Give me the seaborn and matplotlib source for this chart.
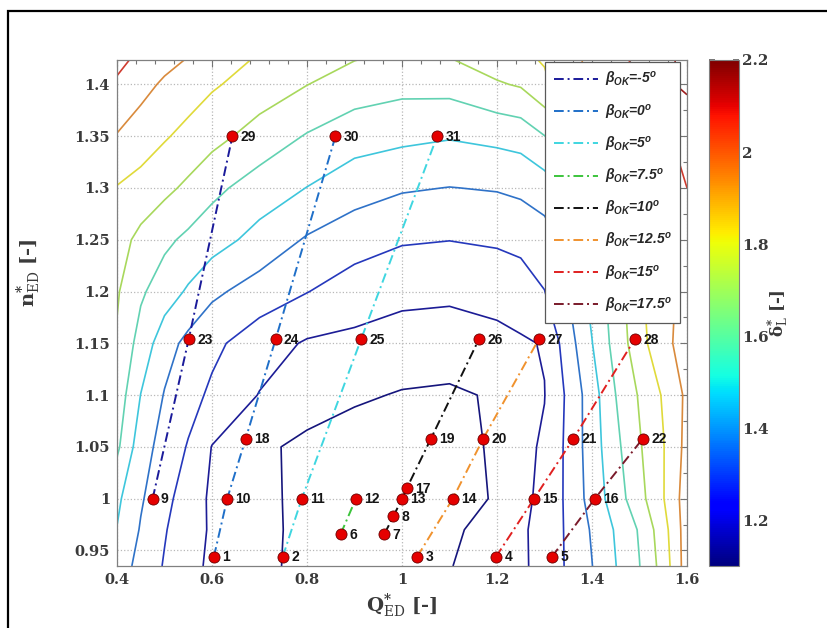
import numpy as np
import pandas as pd
import matplotlib
matplotlib.use("Agg")
import matplotlib.pyplot as plt
import seaborn as sns
from matplotlib.colors import Normalize
from matplotlib.lines import Line2D
from matplotlib.patches import Rectangle
from matplotlib.ticker import MultipleLocator
from matplotlib.font_manager import FontProperties

# ---------------- data ----------------
point_ids = list(range(1, 32))
q_ed = [0.604, 0.749, 1.032, 1.198, 1.316, 0.871, 0.963, 0.982, 0.475, 0.632,
        0.789, 0.903, 1.000, 1.107, 1.278, 1.406, 1.010, 0.671, 1.061, 1.171,
        1.361, 1.507, 0.551, 0.734, 0.914, 1.162, 1.288, 1.490, 0.643, 0.860, 1.074]
n_ed = [0.944, 0.944, 0.944, 0.944, 0.944, 0.966, 0.966, 0.983, 1.000, 1.000,
        1.000, 1.000, 1.000, 1.000, 1.000, 1.000, 1.010, 1.058, 1.058, 1.058,
        1.058, 1.058, 1.154, 1.154, 1.154, 1.154, 1.154, 1.154, 1.350, 1.350, 1.350]
beta_of_point = [0, 5, 12.5, 15, 17.5, 7.5, 10, 10, -5, 0,
                 5, 7.5, 10, 12.5, 15, 17.5, 10, 0, 10, 12.5,
                 15, 17.5, -5, 0, 5, 10, 12.5, 15, -5, 0, 5]

beta_levels = [-5, 0, 5, 7.5, 10, 12.5, 15, 17.5]
beta_texts = ["-5", "0", "5", "7.5", "10", "12.5", "15", "17.5"]
beta_colors = ["#1a1a9a", "#1f6fc8", "#3fd6e0", "#3cc43c",
               "#111111", "#f0922e", "#e02020", "#7a1a2a"]

# contour field s*_L on a grid
grid_q = [0.4, 0.45, 0.5, 0.55, 0.6, 0.7, 0.8, 0.9, 1.0, 1.1, 1.2, 1.25, 1.3,
          1.35, 1.4, 1.45, 1.5, 1.55, 1.6]
grid_n = [0.935, 0.97, 1.0, 1.05, 1.1, 1.15, 1.2, 1.25, 1.3, 1.35, 1.4, 1.425]
grid_s = [
    [1.45, 1.37, 1.292, 1.22, 1.188, 1.163, 1.135, 1.125, 1.123, 1.148, 1.175, 1.19, 1.22, 1.317, 1.398, 1.498, 1.598, 1.74, 1.95],
    [1.497, 1.392, 1.308, 1.235, 1.19, 1.162, 1.138, 1.122, 1.12, 1.14, 1.172, 1.188, 1.227, 1.318, 1.41, 1.51, 1.61, 1.76, 1.95],
    [1.52, 1.411, 1.331, 1.247, 1.185, 1.162, 1.137, 1.12, 1.117, 1.128, 1.155, 1.18, 1.22, 1.323, 1.439, 1.55, 1.666, 1.795, 1.95],
    [1.62, 1.444, 1.361, 1.293, 1.197, 1.16, 1.138, 1.13, 1.125, 1.132, 1.157, 1.18, 1.21, 1.325, 1.45, 1.575, 1.69, 1.795, 1.93],
    [1.66, 1.498, 1.394, 1.335, 1.282, 1.196, 1.175, 1.156, 1.147, 1.143, 1.155, 1.175, 1.198, 1.32, 1.455, 1.6, 1.71, 1.81, 1.92],
    [1.69, 1.561, 1.444, 1.371, 1.324, 1.244, 1.19, 1.178, 1.175, 1.175, 1.18, 1.19, 1.205, 1.356, 1.497, 1.6375, 1.76, 1.88, 1.93],
    [1.71, 1.615, 1.549, 1.487, 1.42, 1.357, 1.303, 1.25, 1.215, 1.21, 1.225, 1.245, 1.298, 1.402, 1.53, 1.65, 1.78, 1.88, 1.92],
    [1.74, 1.674, 1.621, 1.579, 1.543, 1.465, 1.39, 1.345, 1.311, 1.302, 1.315, 1.33, 1.357, 1.43, 1.56, 1.68, 1.79, 1.89, 1.95],
    [1.795, 1.762, 1.724, 1.68, 1.625, 1.555, 1.498, 1.441, 1.41, 1.398, 1.407, 1.42, 1.45, 1.52, 1.62, 1.73, 1.83, 1.93, 2.0],
    [1.895, 1.855, 1.81, 1.771, 1.733, 1.659, 1.593, 1.544, 1.524, 1.508, 1.527, 1.54, 1.598, 1.66, 1.75, 1.84, 1.95, 1.99, 2.02],
    [1.98, 1.93, 1.886, 1.85, 1.812, 1.756, 1.702, 1.652, 1.63, 1.635, 1.69, 1.71, 1.78, 1.87, 1.93, 1.98, 2.03, 2.08, 2.12],
    [2.04, 1.97, 1.93, 1.897, 1.855, 1.79, 1.74, 1.705, 1.68, 1.698, 1.75, 1.78, 1.81, 1.87, 1.92, 1.97, 2.02, 2.07, 2.13],
]
contour_levels = [1.15, 1.2, 1.3, 1.4, 1.5, 1.6, 1.7, 1.8, 1.9, 2.0, 2.1]
contour_colors = ["#15157c", "#1c1c96", "#2538bc", "#2f72c8", "#3ec6dc", "#62d2b2",
                  "#a8d85c", "#e0da3a", "#d98a3c", "#cf3a2e", "#9c1a1a"]

x_ticks = [0.4, 0.6, 0.8, 1.0, 1.2, 1.4, 1.6]
x_ticklabels = ["0.4", "0.6", "0.8", "1", "1.2", "1.4", "1.6"]
y_ticks = [0.95, 1.0, 1.05, 1.1, 1.15, 1.2, 1.25, 1.3, 1.35, 1.4]
y_ticklabels = ["0.95", "1", "1.05", "1.1", "1.15", "1.2", "1.25", "1.3", "1.35", "1.4"]
cb_ticks = [1.2, 1.4, 1.6, 1.8, 2.0, 2.2]
cb_ticklabels = ["1.2", "1.4", "1.6", "1.8", "2", "2.2"]

# ---------------- style ----------------
sns.set_theme(style="white")
plt.rcParams['font.family'] = ['DejaVu Serif']
plt.rcParams['mathtext.fontset'] = 'custom'
plt.rcParams['mathtext.it'] = 'Liberation Sans:italic:bold'
plt.rcParams['mathtext.rm'] = 'Liberation Sans:bold'
plt.rcParams['mathtext.bf'] = 'Liberation Sans:bold'

W, H = 828, 628
fig = plt.figure(figsize=(W / 100, H / 100), dpi=100)
ax = fig.add_axes([117 / W, (H - 566) / H, 570 / W, 506 / H])
cax = fig.add_axes([709 / W, (H - 566) / H, 30 / W, 506 / H])

norm = Normalize(1.1, 2.2)
cmap = plt.get_cmap('jet')

# contours
Qg, Ng = np.meshgrid(np.array(grid_q), np.array(grid_n))
ax.contour(Qg, Ng, np.array(grid_s), levels=contour_levels, colors=contour_colors,
           linewidths=1.2, zorder=2)

# beta lines
df = pd.DataFrame({"Q": q_ed, "n": n_ed, "beta": beta_of_point, "id": point_ids})
df = df.sort_values(["beta", "n", "Q"])
pal = dict(zip(beta_levels, beta_colors))
dash = (0, (5, 2, 1, 2))
sns.lineplot(data=df, x="Q", y="n", hue="beta", hue_order=beta_levels, palette=pal,
             estimator=None, sort=False, legend=False, linewidth=1.4,
             linestyle=dash, ax=ax, zorder=3)

# points
sns.scatterplot(x=q_ed, y=n_ed, color="#e50000", s=64, edgecolor="#6a0000",
                linewidth=0.6, zorder=5, ax=ax, legend=False)
for pid, q, n in zip(point_ids, q_ed, n_ed):
    ax.annotate(str(pid), (q, n), xytext=(6, -0.5), textcoords="offset points",
                ha="left", va="center", fontsize=10, fontweight="bold",
                family="Liberation Sans", color="#151515", zorder=6)

# axes
ax.set_xlim(0.4, 1.6)
ax.set_ylim(0.935, 1.4235)
ax.set_xticks(x_ticks)
ax.set_xticklabels(x_ticklabels)
ax.set_yticks(y_ticks)
ax.set_yticklabels(y_ticklabels)
ax.xaxis.set_minor_locator(MultipleLocator(0.04))
ax.yaxis.set_minor_locator(MultipleLocator(0.025))
ax.tick_params(which="both", direction="in", top=True, right=True, color="0.45",
               width=0.8)
ax.tick_params(which="major", length=5, labelsize=10.5, labelcolor="#3a3a3a", pad=5)
ax.tick_params(which="minor", length=3)
for lab in ax.get_xticklabels() + ax.get_yticklabels():
    lab.set_fontweight("bold")
ax.grid(True, which="major", linestyle=":", color="0.72", linewidth=0.9)
ax.set_axisbelow(True)
for sp in ax.spines.values():
    sp.set_color("0.5")
    sp.set_linewidth(0.9)

ax.set_xlabel(r"$\mathbf{Q}^{\mathbf{*}}_{\mathrm{ED}}$ [-]", fontsize=14,
              fontweight="bold", color="#3a3a3a", math_fontfamily="dejavuserif",
              labelpad=3)
ax.set_ylabel(r"$\mathbf{n}^{\mathbf{*}}_{\mathrm{ED}}$ [-]", fontsize=14,
              fontweight="bold", color="#3a3a3a", math_fontfamily="dejavuserif")
ax.yaxis.set_label_coords(-0.13, 0.58)

# legend
handles = [Line2D([0], [0], color=c, lw=1.4, linestyle=dash) for c in beta_colors]
labels = [r"$\beta_{OK}$=" + t + r"$^{o}$" for t in beta_texts]
fp = FontProperties(family="Liberation Sans", weight="bold", style="italic", size=10)
leg = ax.legend(handles, labels, loc="upper right", bbox_to_anchor=(0.988, 0.996),
                borderaxespad=0, frameon=True, fancybox=False, framealpha=1,
                edgecolor="0.35", labelspacing=0.95, handlelength=3.2,
                handletextpad=0.5, borderpad=0.6, prop=fp)
leg.get_frame().set_linewidth(0.9)
leg.set_zorder(10)

# colorbar
sm = plt.cm.ScalarMappable(norm=norm, cmap=cmap)
cb = fig.colorbar(sm, cax=cax)
cb.set_ticks(cb_ticks)
cb.set_ticklabels(cb_ticklabels)
cb.outline.set_edgecolor("0.5")
cb.outline.set_linewidth(0.8)
cax.tick_params(direction="in", length=4, left=True, right=True, color="0.4",
                labelsize=11, labelcolor="#3a3a3a", pad=2)
for lab in cax.get_yticklabels():
    lab.set_fontweight("bold")
cax.set_ylabel(r"$\mathbf{\delta}^{\mathbf{*}}_{\mathrm{L}}$ [-]", fontsize=12,
               fontweight="bold", color="#3a3a3a", math_fontfamily="dejavuserif",
               rotation=90, labelpad=-2)

# outer frame of the figure
fig.patches.append(Rectangle((8 / W, -0.05), 1.2, 1.05 - 11 / H,
                             transform=fig.transFigure, fill=False,
                             edgecolor="black", linewidth=1.6))

fig.savefig("out.png", dpi=100)
